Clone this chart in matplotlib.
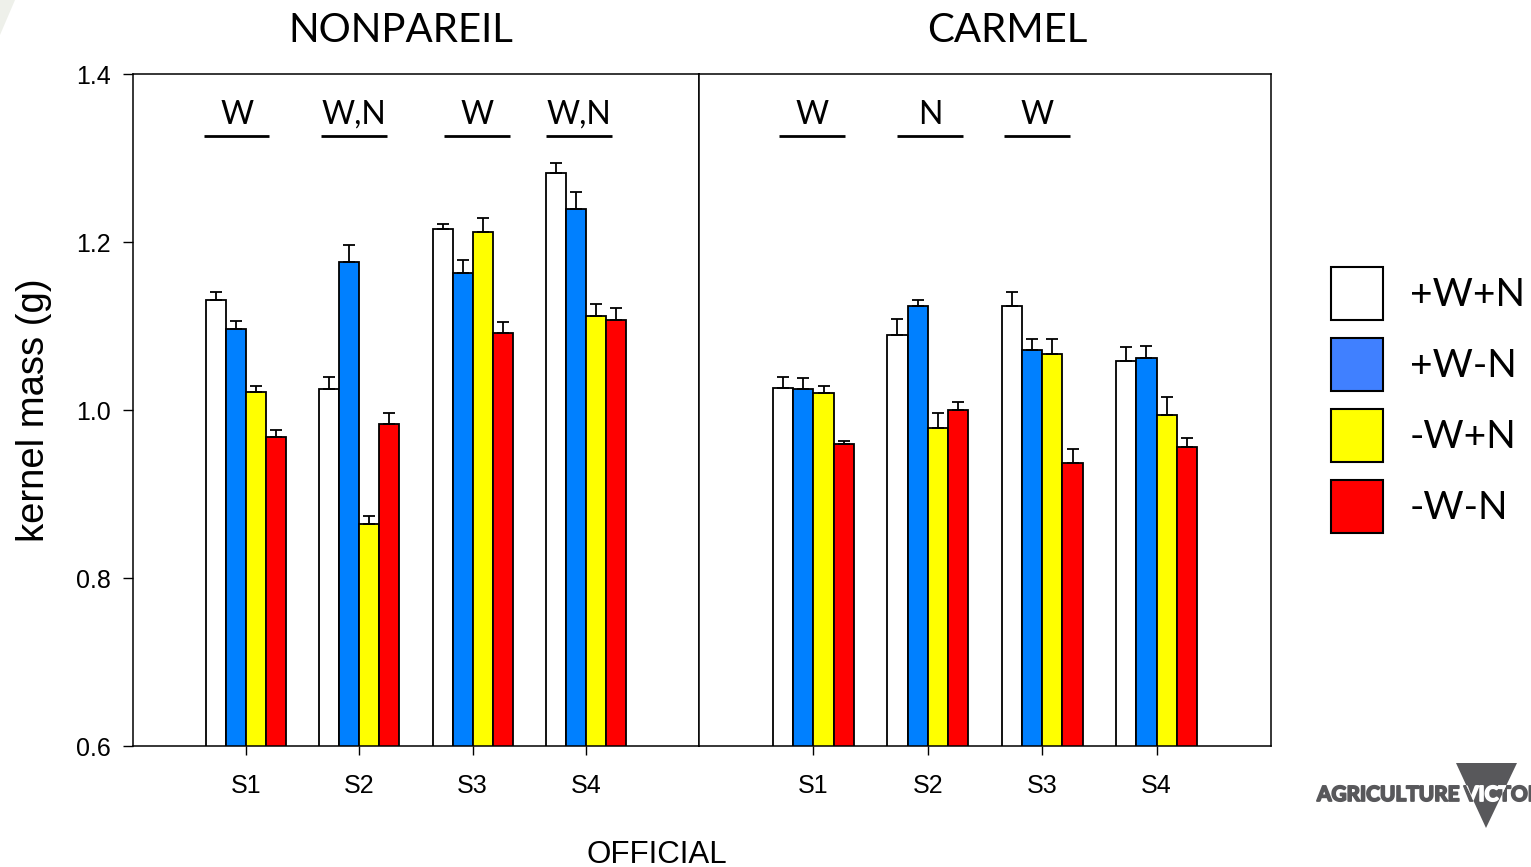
# ===============================
# IMPORT LIBRARIES
# ===============================
import numpy as np
import matplotlib
matplotlib.use("Agg")
import matplotlib.pyplot as plt
from matplotlib.patches import Patch, Polygon
import matplotlib.patheffects as pe

# ===============================
# DATA
# ===============================
sites = ['S1', 'S2', 'S3', 'S4']
treatments = ['+W+N', '+W-N', '-W+N', '-W-N']

# NONPAREIL kernel mass (g)
np_wn = [1.131, 1.025, 1.215, 1.282]
np_w_n = [1.097, 1.176, 1.163, 1.239]
np_nw_n = [1.021, 0.864, 1.212, 1.112]
np_nw_nn = [0.968, 0.983, 1.092, 1.107]
np_err_wn = [0.010, 0.014, 0.007, 0.012]
np_err_w_n = [0.009, 0.021, 0.015, 0.021]
np_err_nw_n = [0.008, 0.010, 0.017, 0.014]
np_err_nw_nn = [0.008, 0.014, 0.013, 0.014]

# CARMEL kernel mass (g)
cm_wn = [1.026, 1.089, 1.124, 1.058]
cm_w_n = [1.025, 1.124, 1.071, 1.062]
cm_nw_n = [1.020, 0.979, 1.067, 0.994]
cm_nw_nn = [0.959, 1.000, 0.937, 0.956]
cm_err_wn = [0.013, 0.019, 0.017, 0.017]
cm_err_w_n = [0.013, 0.007, 0.014, 0.014]
cm_err_nw_n = [0.009, 0.018, 0.018, 0.021]
cm_err_nw_nn = [0.004, 0.010, 0.017, 0.011]

# significant effects per site
np_sig = ['W', 'W,N', 'W', 'W,N']
cm_sig = ['W', 'N', 'W', '']

yticks = [0.6, 0.8, 1.0, 1.2, 1.4]

# ===============================
# STYLE / LAYOUT
# ===============================
bar_colors = ['#ffffff', '#0080ff', '#ffff00', '#ff0000']
legend_colors = ['#ffffff', '#4080ff', '#ffff00', '#ff0000']
text_font = 'Lato'
tick_font = 'Liberation Sans'
bar_w = 0.177
# small horizontal nudges of the significance marks (as placed on the slide)
np_sig_shift = [-0.085, -0.045, 0.04, -0.06]
cm_sig_shift = [-0.01, 0.02, -0.045, 0.0]

fig = plt.figure(figsize=(15.31, 8.67), dpi=100)
ax1 = fig.add_axes([133 / 1531, 1 - 746 / 867, 566 / 1531, 672 / 867])
ax2 = fig.add_axes([699 / 1531, 1 - 746 / 867, 572 / 1531, 672 / 867])

panels = [
    (ax1, [np_wn, np_w_n, np_nw_n, np_nw_nn],
     [np_err_wn, np_err_w_n, np_err_nw_n, np_err_nw_nn], np_sig, np_sig_shift),
    (ax2, [cm_wn, cm_w_n, cm_nw_n, cm_nw_nn],
     [cm_err_wn, cm_err_w_n, cm_err_nw_n, cm_err_nw_nn], cm_sig, cm_sig_shift),
]

x = np.arange(1, len(sites) + 1)

# ===============================
# DRAW BARS
# ===============================
for ax, series, errors, sig, shift in panels:
    for i, (vals, err) in enumerate(zip(series, errors)):
        xpos = x + (i - 1.5) * bar_w
        ax.bar(xpos, vals, bar_w, color=bar_colors[i], edgecolor='black',
               linewidth=1.3, zorder=2)
        ax.errorbar(xpos, vals, yerr=[np.zeros(len(err)), err], fmt='none',
                    ecolor='black', elinewidth=1.3, capsize=4, capthick=1.3,
                    zorder=3)

    for xc, lab, dx in zip(x, sig, shift):
        if lab:
            ax.text(xc + dx, 1.341, lab, ha='center', va='baseline',
                    fontsize=23, family=text_font)
            ax.hlines(1.326, xc + dx - 0.29, xc + dx + 0.29, color='black',
                      lw=2)

    ax.set_xlim(0, 5)
    ax.set_ylim(0.6, 1.4)
    ax.set_xticks(x)
    ax.set_xticklabels(sites, family=tick_font)
    ax.tick_params(axis='x', length=6.5, width=1, labelsize=18, pad=14)
    for s in ax.spines.values():
        s.set_linewidth(1.1)

ax1.set_yticks(yticks)
ax1.set_yticklabels([f'{v:.1f}' for v in yticks], family=tick_font)
ax1.tick_params(axis='y', length=7, width=1, labelsize=18, pad=9)
ax1.set_ylabel('kernel mass (g)', fontsize=27.5, family=tick_font,
               labelpad=17)
ax2.tick_params(axis='y', left=False, labelleft=False)

# ===============================
# TITLES AND LEGEND
# ===============================
fig.text(401 / 1531, 1 - 42 / 867, 'NONPAREIL', ha='center', va='baseline',
         fontsize=29, family=text_font)
fig.text(1007 / 1531, 1 - 42 / 867, 'CARMEL', ha='center', va='baseline',
         fontsize=29, family=text_font)

handles = [Patch(facecolor=c, edgecolor='black', linewidth=1.5)
           for c in legend_colors]
fig.legend(handles, treatments, loc='upper left',
           bbox_to_anchor=(1331 / 1531, 1 - 267 / 867), frameon=False,
           borderpad=0, borderaxespad=0, handlelength=1.34, handleheight=1.72,
           labelspacing=0.463, handletextpad=0.69,
           prop={'family': text_font, 'size': 28})

fig.text(657 / 1531, 1 - 863 / 867, 'OFFICIAL', ha='center', va='baseline',
         fontsize=22.5, family=tick_font)

# ===============================
# SLIDE DECORATION / LOGO
# ===============================
logo_grey = '#58585b'
fig.patches.append(Polygon([(0, 1), (15 / 1531, 1), (0, 1 - 35 / 867)],
                           closed=True, transform=fig.transFigure,
                           facecolor='#eef0ea', edgecolor='none'))
thick_grey = [pe.withStroke(linewidth=1.3, foreground=logo_grey)]
fig.text(1317 / 1531, 1 - 801 / 867, 'AGRICULTURE', ha='left',
         va='baseline', fontsize=15, fontweight='bold', family=text_font,
         color=logo_grey, path_effects=thick_grey)
fig.text(1464 / 1531, 1 - 801 / 867, 'VICTORIA', ha='left', va='baseline',
         fontsize=15, fontweight='bold', family=text_font, color=logo_grey,
         path_effects=thick_grey)
tri = Polygon([(1456 / 1531, 1 - 763 / 867), (1517 / 1531, 1 - 763 / 867),
               (1486 / 1531, 1 - 828 / 867)],
              closed=True, transform=fig.transFigure,
              facecolor=logo_grey, edgecolor='none')
fig.patches.append(tri)
knock = fig.text(1464 / 1531, 1 - 801 / 867, 'VICTORIA', ha='left',
                 va='baseline', fontsize=15, fontweight='bold',
                 family=text_font, color='white',
                 path_effects=[pe.withStroke(linewidth=1.3,
                                             foreground='white')])
knock.set_clip_path(tri)

fig.savefig('out.png', dpi=100)
